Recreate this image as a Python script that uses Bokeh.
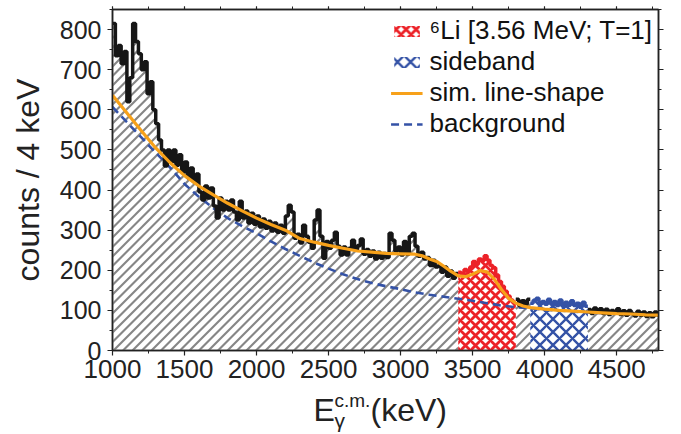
import numpy as np
from bokeh.plotting import figure
from bokeh.layouts import column
from bokeh.models import (LinearAxis, Range1d, Label, Legend, LegendItem,
                          SingleIntervalTicker)
from bokeh.embed import file_html
from bokeh.resources import INLINE

# ---------------- data ----------------
bin_width = 20          # keV per plotted bin
e_start = 1000          # keV, first bin edge
counts = [
    815, 735, 760, 715, 745, 620, 680, 815, 770, 740,   # 1000-1180
    700, 720, 640, 670, 600, 565, 525, 500, 460, 500,   # 1200-1380
    470, 500, 462, 488, 445, 470, 430, 455, 420, 440,   # 1400-1580
    395, 375, 410, 380, 405, 360, 330, 380, 350, 372,   # 1600-1780
    350, 375, 345, 325, 372, 330, 348, 318, 342, 315,   # 1800-1980
    335, 308, 328, 305, 322, 298, 318, 295, 312, 292,   # 2000-2180
    335, 362, 345, 280, 290, 268, 312, 285, 270, 255,   # 2200-2380
    325, 350, 285, 230, 272, 255, 275, 295, 260, 238,   # 2400-2580
    258, 238, 255, 275, 250, 262, 278, 240, 252, 235,   # 2600-2780
    248, 228, 245, 230, 242, 232, 292, 275, 248, 258,   # 2800-2980
    238, 272, 240, 285, 292, 260, 235, 245, 228, 232,   # 3000-3180
    212, 225, 208, 212, 195, 208, 185, 198, 180, 192,   # 3200-3380
    195, 188, 202, 196, 208, 222, 215, 228, 224, 236,   # 3400-3580
    225, 212, 206, 188, 172, 160, 148, 136, 126, 120,   # 3600-3780
    128, 112, 124, 115, 128, 118, 125, 130, 118, 122,   # 3800-3980
    115, 128, 116, 122, 112, 126, 110, 120, 113, 124,   # 4000-4180
    112, 118, 108, 120, 110, 102, 92, 106, 96, 104,     # 4200-4380
    92, 103, 90, 100, 94, 104, 90, 99, 88, 100,         # 4400-4580
    92, 86, 98, 88, 96, 85, 94, 84, 96, 88,             # 4600-4780
]

sim_e = [1000, 1100, 1200, 1300, 1400, 1500, 1600, 1700, 1800, 1900, 2000,
         2100, 2200, 2300, 2400, 2500, 2600, 2700, 2800, 2900, 3000, 3100,
         3150, 3200, 3250, 3300, 3350, 3400, 3450, 3500, 3550, 3600, 3650,
         3700, 3750, 3800, 3850, 3900, 4000, 4100, 4200, 4300, 4400, 4500,
         4600, 4700, 4790]
sim_v = [636, 592, 548, 505, 468, 436, 410, 388, 367, 348, 330,
         314, 300, 279, 270, 262, 255, 248, 245, 242, 241, 240,
         236, 228, 222, 210, 197, 186, 184, 190, 199, 196, 178,
         152, 130, 118, 111, 107, 103, 100, 98, 96, 94, 92,
         91, 89, 88]

bkg_e = [1000, 1100, 1200, 1300, 1400, 1500, 1600, 1700, 1800, 1900, 2000,
         2100, 2200, 2300, 2400, 2500, 2600, 2700, 2800, 2900, 3000, 3100,
         3200, 3300, 3400, 3500, 3600, 3700, 3800, 3900, 4000, 4200, 4400,
         4600, 4790]
bkg_v = [607, 569, 531, 493, 456, 415, 383, 355, 330, 310, 292,
         272, 253, 236, 219, 204, 190, 178, 168, 160, 153, 145,
         139, 134, 129, 124, 118, 112, 108, 105, 102, 97, 93,
         90, 87]

peak_range = (3400, 3800)     # 6Li [3.56 MeV; T=1]
side_range = (3900, 4300)     # sideband
x_lim = (1000, 4790)
y_lim = (0, 850)

label_peak = "\u2076Li [3.56 MeV; T=1]"
label_side = "sideband"
label_sim = "sim. line-shape"
label_bkg = "background"
y_title = "counts / 4 keV"

# ---------------- layout constants ----------------
FONT = "Liberation Sans"
W = 681
H_MAIN = 390
H_TITLE = 44
B_LEFT, B_RIGHT, B_TOP, B_BOTTOM = 112, 23, 9, 40

frame_w = W - B_LEFT - B_RIGHT
frame_h = H_MAIN - B_TOP - B_BOTTOM
px_per_kev = frame_w / (x_lim[1] - x_lim[0])
px_per_count = frame_h / (y_lim[1] - y_lim[0])

# ---------------- helpers ----------------
edges = e_start + bin_width * np.arange(len(counts) + 1)
cnt = np.array(counts, dtype=float)


def step_xy(lo, hi):
    idx = np.where((edges[:-1] >= lo) & (edges[:-1] < hi))[0]
    xs, ys = [], []
    for i in idx:
        xs += [edges[i], edges[i + 1]]
        ys += [cnt[i], cnt[i]]
    return xs, ys


# 45-degree (on screen) hatch lines under the histogram, clipped to it
hatch_gap_px = 9.5
slope = px_per_kev / px_per_count            # counts per keV for 45 deg
hatch_step = hatch_gap_px / px_per_kev       # keV between hatch lines


def hatch_lines(regions):
    seg_x, seg_y = [], []
    c0 = x_lim[0] - y_lim[1] / slope
    for c in np.arange(c0, x_lim[1], hatch_step):
        segs = []
        for i in range(len(cnt)):
            e0, e1 = edges[i], edges[i + 1]
            for lo, hi in regions:
                a = max(e0, lo, c, x_lim[0])
                b = min(e1, hi, x_lim[1])
                if b <= a:
                    continue
                top = c + cnt[i] / slope
                if top <= a:
                    continue
                bb = min(b, top)
                if segs and abs(segs[-1][1] - a) < 1e-9:
                    segs[-1][1] = bb
                else:
                    segs.append([a, bb])
        for a, b in segs:
            seg_x.append([a, b])
            seg_y.append([(a - c) * slope, (b - c) * slope])
    return seg_x, seg_y


# ---------------- figure ----------------
p = figure(width=W, height=H_MAIN, output_backend="svg", toolbar_location=None,
           x_range=Range1d(*x_lim), y_range=Range1d(*y_lim),
           min_border_left=B_LEFT, min_border_right=B_RIGHT,
           min_border_top=B_TOP, min_border_bottom=B_BOTTOM,
           x_axis_type=None, y_axis_type=None)
p.grid.visible = False
p.outline_line_color = "#222222"
p.outline_line_width = 1.5
p.background_fill_color = "white"
p.border_fill_color = "white"

GRAY = "#868686"
RED = "#ec2228"
BLUE = "#3452a6"
ORANGE = "#f7a11a"
BLACK = "#161616"

gray_segments = [(x_lim[0], peak_range[0]), (peak_range[1], side_range[0]),
                 (side_range[1], 4800)]

hx, hy = hatch_lines(gray_segments)
p.multi_line(hx, hy, line_color=GRAY, line_width=2.1)

xs, ys = step_xy(*peak_range)
red_area = p.varea(x=xs, y1=[0] * len(xs), y2=ys, fill_alpha=0,
                   hatch_pattern="x", hatch_color=RED, hatch_scale=10,
                   hatch_weight=2.8)
red_xs, red_ys = xs, ys

xs, ys = step_xy(*side_range)
blue_area = p.varea(x=xs, y1=[0] * len(xs), y2=ys, fill_alpha=0,
                    hatch_pattern="x", hatch_color=BLUE, hatch_scale=13,
                    hatch_weight=2.4)
blue_xs, blue_ys = xs, ys

bkg_line = p.line(bkg_e, bkg_v, line_color=BLUE, line_width=2.6,
                  line_dash="8 5")

for lo, hi in gray_segments:
    xs, ys = step_xy(lo, hi)
    p.line(xs, ys, line_color=BLACK, line_width=3.5)
p.line(red_xs, red_ys, line_color=RED, line_width=3.5)
p.line(blue_xs, blue_ys, line_color=BLUE, line_width=3.5)

sim_line = p.line(sim_e, sim_v, line_color=ORANGE, line_width=3.2)


# ---------------- axes ----------------
def style_axis(ax, labels=True, size="25px"):
    ax.axis_line_color = "#222222"
    ax.axis_line_width = 1.5
    ax.major_tick_line_color = "#222222"
    ax.minor_tick_line_color = "#222222"
    ax.major_tick_line_width = 1.2
    ax.minor_tick_line_width = 1.0
    ax.major_tick_out = 5
    ax.major_tick_in = 0
    ax.minor_tick_out = 3
    ax.minor_tick_in = 0
    ax.major_label_text_font = FONT
    ax.major_label_text_font_size = size
    ax.major_label_text_color = "#222222"
    if not labels:
        ax.major_label_text_alpha = 0
        ax.major_label_text_font_size = "1px"


xax = LinearAxis(ticker=SingleIntervalTicker(interval=500, num_minor_ticks=2))
style_axis(xax, size="26px")
xax.major_label_standoff = 4
p.add_layout(xax, "below")

yax = LinearAxis(ticker=SingleIntervalTicker(interval=100, num_minor_ticks=2))
style_axis(yax, size="25px")
yax.major_label_standoff = 6
yax.axis_label = y_title
yax.axis_label_text_font = FONT
yax.axis_label_text_font_size = "32px"
yax.axis_label_text_font_style = "normal"
yax.axis_label_text_color = "#222222"
yax.axis_label_standoff = 11
p.add_layout(yax, "left")

tax = LinearAxis(ticker=SingleIntervalTicker(interval=500, num_minor_ticks=2))
style_axis(tax, labels=False)
tax.major_tick_out = 3
p.add_layout(tax, "above")

rax = LinearAxis(ticker=SingleIntervalTicker(interval=100, num_minor_ticks=2))
style_axis(rax, labels=False)
p.add_layout(rax, "right")

# ---------------- legend ----------------
legend = Legend(items=[
    LegendItem(label=label_peak, renderers=[red_area]),
    LegendItem(label=label_side, renderers=[blue_area]),
    LegendItem(label=label_sim, renderers=[sim_line]),
    LegendItem(label=label_bkg, renderers=[bkg_line]),
], location="top_right")
legend.label_text_font = FONT
legend.label_text_font_size = "26px"
legend.label_text_color = "#111111"
legend.glyph_width = 32
legend.glyph_height = 14
legend.label_standoff = 7
legend.spacing = -2
legend.padding = 6
legend.margin = 0
legend.border_line_alpha = 0
legend.background_fill_alpha = 0
legend.label_height = 27
p.add_layout(legend)

# ---------------- x-axis title strip: E_gamma^{c.m.}(keV) ----------------
t = figure(width=W, height=H_TITLE, output_backend="svg", toolbar_location=None,
           x_range=Range1d(*x_lim), y_range=Range1d(0, H_TITLE),
           min_border_left=B_LEFT, min_border_right=B_RIGHT,
           min_border_top=0, min_border_bottom=0,
           x_axis_type=None, y_axis_type=None)
t.grid.visible = False
t.outline_line_color = None
t.background_fill_color = "white"
t.border_fill_color = "white"


def lab(px, y, text, size):
    x = x_lim[0] + (px - B_LEFT) / px_per_kev
    t.add_layout(Label(x=x, y=y, text=text, text_font=FONT,
                       text_font_size=size, text_color="#222222",
                       text_baseline="alphabetic", text_align="left"))


lab(313, 25, "E", "32px")
lab(334, 34, "c.m.", "19px")
lab(334, 14, "\u03b3", "21px")
lab(370, 25, "(keV)", "32px")

layout = column(p, t, spacing=0)
open("out.html", "w").write(file_html(layout, INLINE))
